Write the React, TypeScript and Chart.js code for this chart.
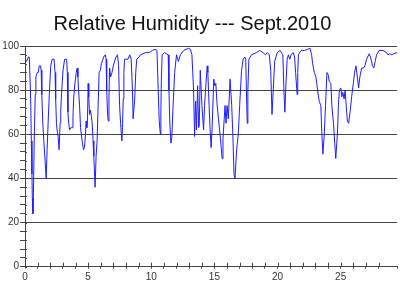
import { useEffect, useRef } from "react";
import { Chart, registerables } from "chart.js";

Chart.register(...registerables);

const titleText = "Relative Humidity --- Sept.2010";

const days = [
  0.0, 0.13, 0.26, 0.34, 0.45, 0.5, 0.55, 0.58, 0.63, 0.68, 0.73, 0.81, 0.86, 0.97, 1.05, 1.13, 1.23, 1.28, 1.33, 1.41,
  1.49, 1.57, 1.68, 1.75, 1.83, 1.94, 2.04, 2.15, 2.3, 2.38, 2.43, 2.49, 2.54, 2.62, 2.7, 2.78, 2.83, 2.91, 3.01, 3.14,
  3.3, 3.35, 3.4, 3.46, 3.53, 3.64, 3.74, 3.8, 3.85, 3.95, 4.06, 4.14, 4.19, 4.24, 4.32, 4.4, 4.5, 4.63, 4.71, 4.79,
  4.84, 4.9, 4.95, 5.0, 5.05, 5.11, 5.18, 5.26, 5.32, 5.39, 5.45, 5.55, 5.63, 5.71, 5.79, 5.87, 5.97, 6.05, 6.23, 6.36,
  6.42, 6.47, 6.55, 6.6, 6.65, 6.7, 6.78, 6.89, 6.99, 7.2, 7.33, 7.41, 7.49, 7.57, 7.67, 7.72, 7.78, 7.83, 7.88, 7.99,
  8.14, 8.3, 8.41, 8.51, 8.56, 8.62, 8.69, 8.77, 8.85, 9.03, 9.14, 9.56, 9.85, 10.08, 10.3, 10.45, 10.55, 10.63, 10.72, 10.76,
  10.8, 10.86, 11.05, 11.34, 11.4, 11.47, 11.56, 11.63, 11.72, 11.85, 12.0, 12.15, 12.3, 12.57, 12.96, 13.1, 13.22, 13.35, 13.43, 13.51,
  13.58, 13.67, 13.75, 13.8, 13.88, 14.01, 14.14, 14.22, 14.33, 14.43, 14.48, 14.58, 14.66, 14.74, 14.82, 14.95, 15.03, 15.11, 15.22, 15.32,
  15.48, 15.61, 15.68, 15.84, 15.92, 16.0, 16.1, 16.24, 16.37, 16.47, 16.55, 16.63, 16.76, 16.89, 17.0, 17.15, 17.28, 17.41, 17.48, 17.56,
  17.6, 17.65, 17.73, 17.94, 18.33, 18.59, 18.85, 19.04, 19.19, 19.35, 19.46, 19.56, 19.66, 19.77, 19.98, 20.2, 20.42, 20.5, 20.58, 20.65,
  20.76, 20.86, 20.97, 21.07, 21.24, 21.35, 21.43, 21.55, 21.6, 21.65, 21.86, 22.13, 22.39, 22.57, 22.7, 22.78, 22.91, 23.04, 23.17, 23.3,
  23.43, 23.51, 23.59, 23.7, 23.8, 23.91, 24.01, 24.09, 24.22, 24.3, 24.43, 24.53, 24.61, 24.74, 24.82, 24.9, 25.01, 25.09, 25.17, 25.27,
  25.35, 25.45, 25.53, 25.63, 25.74, 25.87, 26.0, 26.1, 26.21, 26.32, 26.42, 26.52, 26.66, 26.8, 26.92, 27.05, 27.26, 27.36, 27.52, 27.62,
  27.73, 27.84, 28.05, 28.36, 28.62, 28.75, 28.88, 29.05, 29.2, 29.46,
];

const humidity = [
  94, 93, 95, 95, 76, 57, 42, 31, 24, 38, 57, 78, 86, 88, 88, 91, 91, 89, 78, 65,
  57, 50, 40, 53, 65, 80, 91, 94, 94, 88, 76, 65, 62, 59, 53, 65, 71, 80, 89, 94,
  94, 88, 70, 65, 62, 63, 63, 68, 76, 83, 88, 90, 86, 80, 73, 63, 58, 53, 54, 60,
  66, 63, 67, 83, 77, 69, 71, 68, 65, 57, 50, 36, 50, 57, 73, 88, 89, 92, 95, 96,
  94, 80, 68, 66, 77, 90, 86, 88, 91, 95, 96, 91, 73, 65, 57, 63, 76, 88, 94, 94,
  94, 96, 94, 80, 67, 67, 76, 88, 94, 95, 96, 97, 97, 98, 98.5, 98, 80, 66, 60, 70,
  85, 96, 97, 96, 80, 65, 56, 59, 72, 88, 96, 93, 96, 98, 99, 98.5, 96, 80, 59, 75,
  62, 82, 63, 64, 89, 73, 62, 73, 83, 91, 88, 73, 62, 54, 63, 85, 82, 83, 73, 67,
  58, 49, 58, 73, 65, 73, 67, 85, 73, 58, 42, 40, 53, 60, 73, 89, 94, 95, 94, 73,
  65, 80, 94, 96, 97, 98, 97, 96, 97, 96, 89, 69, 80, 93, 97, 98, 96, 80, 70, 81,
  94, 96, 94, 96, 97, 95, 88, 78, 88, 96, 98, 98, 98.5, 99, 96, 92, 88, 86, 80, 75,
  73, 60, 51, 60, 73, 88, 87, 84, 83, 73, 65, 56, 49, 60, 73, 80, 81, 77, 79, 76,
  80, 72, 66, 65, 70, 77, 83, 88, 91, 86, 81, 86, 90, 90, 91, 94, 96.5, 95, 91, 90,
  93, 96, 98, 98, 97, 96, 96.5, 96, 96.5, 97,
];

const xMin = 0;
const xMax = 29.46;
const xMajorStep = 5;
const yMin = 0;
const yMax = 100;
const yMajorStep = 20;

const FONT = '"Liberation Sans", Arial, sans-serif';
const AXIS = "#444";

const extras = {
  id: "extras",
  afterDraw(chart: any) {
    const ctx = chart.ctx;
    const { left, bottom } = chart.chartArea;
    ctx.save();
    ctx.strokeStyle = AXIS;
    ctx.lineWidth = 1;
    ctx.beginPath();
    const xs = chart.scales.x;
    xs.ticks.forEach((t: any) => {
      if (t.value >= xs.max - 0.01) return;
      const px = Math.round(xs.getPixelForValue(t.value)) + 0.5;
      ctx.moveTo(px, bottom);
      ctx.lineTo(px, bottom - 4);
    });
    const ys = chart.scales.y;
    ys.ticks.forEach((t: any) => {
      const py = Math.round(ys.getPixelForValue(t.value)) + 0.5;
      ctx.moveTo(left, py);
      ctx.lineTo(left + 2, py);
    });
    ctx.stroke();
    ctx.font = "20px " + FONT;
    ctx.fillStyle = "#111";
    ctx.textAlign = "center";
    ctx.textBaseline = "alphabetic";
    ctx.fillText(titleText, 192.5, 29.5);
    ctx.restore();
  },
};

export default function App() {
  const ref = useRef<HTMLCanvasElement | null>(null);

  useEffect(() => {
    if (!ref.current) return;
    const chart = new Chart(ref.current, {
      type: "line",
      data: {
        datasets: [
          {
            data: days.map((d, i) => ({ x: d, y: humidity[i] })),
            borderColor: "rgb(30,30,255)",
            borderWidth: 1,
            pointRadius: 0,
            tension: 0,
            fill: false,
          },
        ],
      },
      options: {
        animation: false,
        responsive: false,
        events: [],
        layout: { padding: { top: 46, right: 0, bottom: 0, left: 0 } },
        plugins: {
          legend: { display: false },
          tooltip: { enabled: false },
          title: { display: false },
        },
        scales: {
          x: {
            type: "linear",
            min: xMin,
            max: xMax,
            afterFit: (s: any) => {
              s.height = 33.3;
            },
            border: { display: true, color: AXIS },
            grid: { drawOnChartArea: false, tickLength: 2, tickColor: AXIS },
            ticks: {
              stepSize: 1,
              autoSkip: false,
              maxRotation: 0,
              padding: 3,
              color: "#333",
              font: { family: FONT, size: 10 },
              callback: (v: any) => (Math.abs(v % xMajorStep) < 1e-9 ? String(v) : ""),
            },
          },
          y: {
            min: yMin,
            max: yMax,
            afterFit: (s: any) => {
              s.width = 25;
            },
            border: { display: true, color: AXIS },
            grid: {
              color: (c: any) =>
                c.tick && c.tick.value % yMajorStep === 0 && c.tick.value !== 0 ? AXIS : "rgba(0,0,0,0)",
              tickLength: 5,
              tickColor: AXIS,
            },
            ticks: {
              stepSize: 4,
              autoSkip: false,
              padding: 1,
              color: "#333",
              font: { family: FONT, size: 10 },
              callback: (v: any) => (v % yMajorStep === 0 ? String(v) : ""),
            },
          },
        },
      },
      plugins: [extras],
    });
    return () => chart.destroy();
  }, []);

  return (
    <div style={{ position: "fixed", left: 0, top: 0, width: 400, height: 300, background: "#fff" }}>
      <canvas ref={ref} width={400} height={300} style={{ width: 400, height: 300, display: "block" }} />
    </div>
  );
}
